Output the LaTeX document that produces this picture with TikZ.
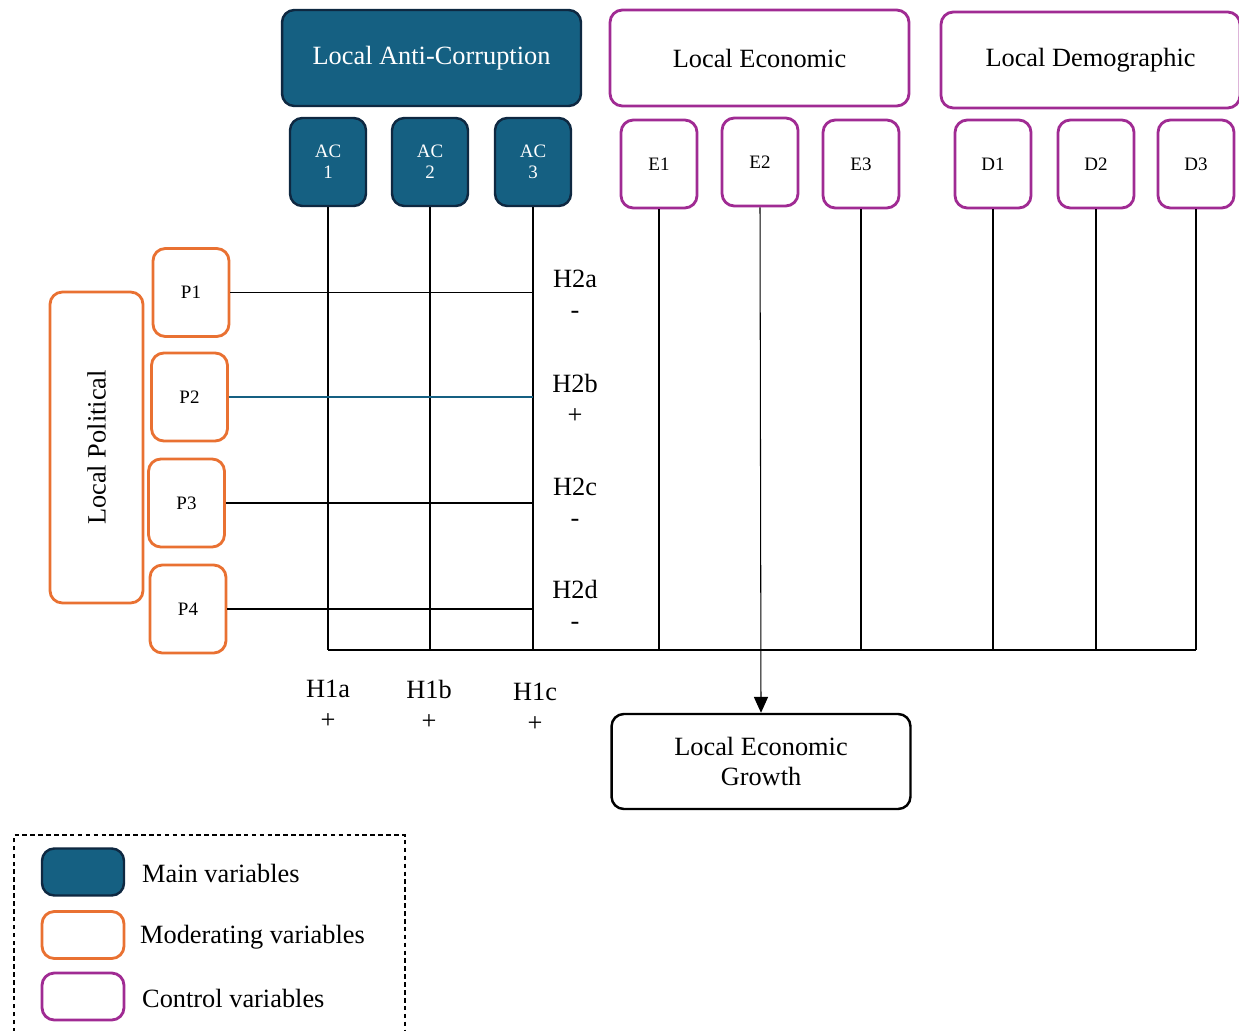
\documentclass[tikz,border=0pt]{standalone}
\usepackage{fontspec}
\setmainfont{Liberation Serif}
\usetikzlibrary{arrows.meta}

\definecolor{acblue}{HTML}{156082}
\definecolor{acedge}{HTML}{0E2841}
\definecolor{modorange}{HTML}{E97132}
\definecolor{ctrlpurple}{HTML}{A02B93}

\tikzset{
  bigfont/.style={font=\fontsize{15}{17.5}\selectfont},
  smallfont/.style={font=\fontsize{10.8}{12}\selectfont},
  mainbox/.style={draw=acedge, fill=acblue, text=white, line width=1.4pt, rounded corners=7pt},
  modbox/.style={draw=modorange, line width=1.6pt, rounded corners=7pt},
  ctrlbox/.style={draw=ctrlpurple, line width=1.6pt, rounded corners=7pt},
  headbox/.style={minimum width=5.98cm, minimum height=1.92cm, bigfont, align=center},
  subbox/.style={minimum width=1.52cm, minimum height=1.76cm, smallfont, align=center},
  keybox/.style={minimum width=1.64cm, minimum height=0.94cm},
  hyp/.style={bigfont, align=center},
  link/.style={line width=0.6pt},
}

\begin{document}
\begin{tikzpicture}[x=0.02cm, y=-0.02cm]
	\clip (0,0) rectangle (1239,1030);
	% groups on top
	\node[mainbox, headbox] (anti) at (431.5,58) {Local Anti-Corruption};
	\node[ctrlbox, headbox] (econ) at (759.5,58) {Local Economic};
	\node[ctrlbox, headbox] (demo) at (1090.5,60) {Local Demographic};
	% single variables
	\node[mainbox, subbox] (ac1) at (328,162) {AC\\1};
	\node[mainbox, subbox] (ac2) at (430,162) {AC\\2};
	\node[mainbox, subbox] (ac3) at (533,162) {AC\\3};
	\node[ctrlbox, subbox] (e1) at (659,164) {E1};
	\node[ctrlbox, subbox] (e2) at (760,162) {E2};
	\node[ctrlbox, subbox] (e3) at (861,164) {E3};
	\node[ctrlbox, subbox] (d1) at (993,164) {D1};
	\node[ctrlbox, subbox] (d2) at (1096,164) {D2};
	\node[ctrlbox, subbox] (d3) at (1196,164) {D3};
	% moderators
	\node[modbox, rotate=90, minimum width=6.22cm, minimum height=1.86cm, bigfont] (pol) at (96.5,447.5) {Local Political};
	\node[modbox, subbox] (p1) at (191,292.5) {P1};
	\node[modbox, subbox] (p2) at (189.5,397) {P2};
	\node[modbox, subbox] (p3) at (186.5,503) {P3};
	\node[modbox, subbox] (p4) at (188,609) {P4};
	% outcome
	\node[draw, line width=1.4pt, rounded corners=7pt, headbox, minimum height=1.9cm] (growth) at (761,761.5) {Local Economic\\Growth};

	% connectors
	\coordinate (base) at (328,650);
	\foreach \n in {ac1,ac2,ac3,e1,e3,d1,d2,d3}
		\draw[link] (\n.south) -- (\n.south |- base);
	\draw[link] (ac1.south |- base) -- (d3.south |- base);
	\draw[link, -{Triangle[width=8pt,length=9pt]}] (e2.south) -- (growth.north);
	\foreach \n in {p1,p3,p4}
		\draw[link] (\n.east) -- (\n.east -| ac3.south);
	\draw[link, acblue] (p2.east) -- (p2.east -| ac3.south);

	% hypotheses
	\node[hyp] (h2a) at (575,294) {H2a\\-};
	\node[hyp] (h2b) at (575,399) {H2b\\+};
	\node[hyp] (h2c) at (575,502) {H2c\\-};
	\node[hyp] (h2d) at (575,605) {H2d\\-};
	\node[hyp] (h1a) at (328,704) {H1a\\+};
	\node[hyp] (h1b) at (429,705) {H1b\\+};
	\node[hyp] (h1c) at (535,707) {H1c\\+};

	% legend
	\draw[line width=0.8pt, dash pattern=on 2.6pt off 1.9pt] (14,1040) -- (14,835) -- (405,835) -- (405,1040);
	\node[mainbox, keybox] (kmain) at (83,872) {};
	\node[modbox, keybox] (kmod) at (83,935) {};
	\node[ctrlbox, keybox] (kctrl) at (83,996.5) {};
	\node[bigfont, anchor=west] (tmain) at (136,873) {Main variables};
	\node[bigfont, anchor=west] (tmod) at (134,937) {Moderating variables};
	\node[bigfont, anchor=west] (tctrl) at (136,998) {Control variables};
\end{tikzpicture}
\end{document}
